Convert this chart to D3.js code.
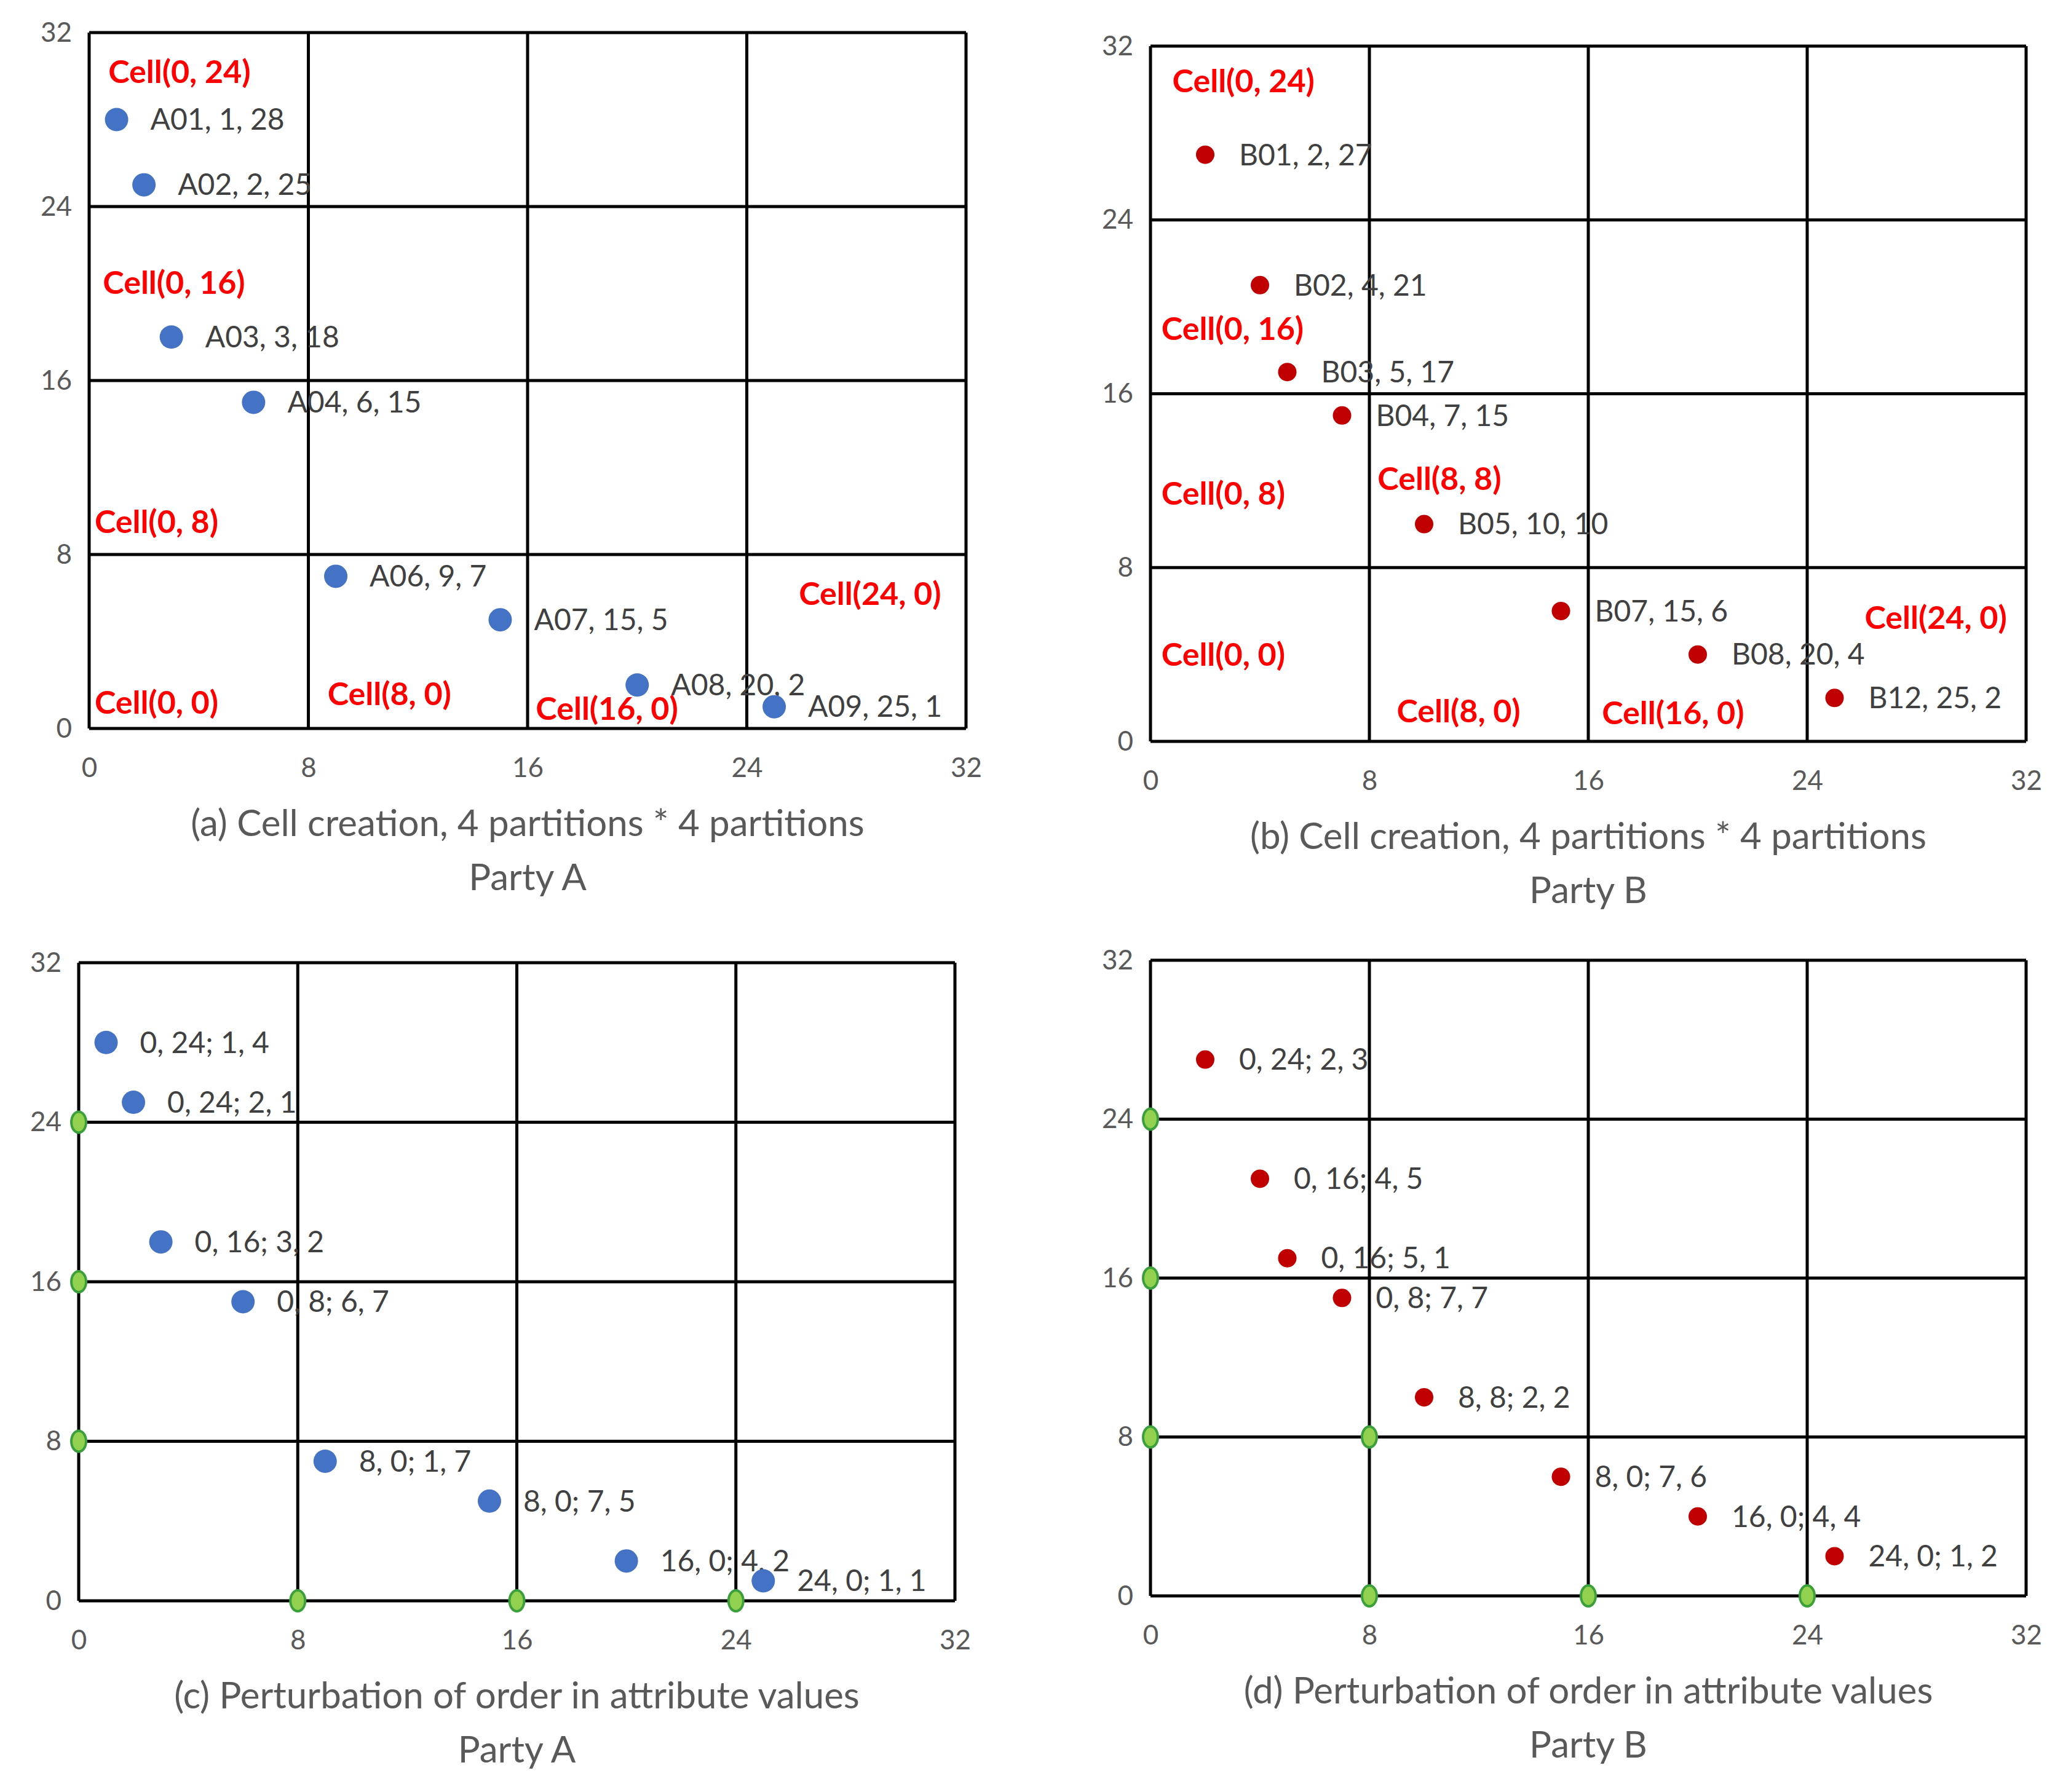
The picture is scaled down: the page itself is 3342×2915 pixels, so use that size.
<!DOCTYPE html>
<html>
<head>
<meta charset="utf-8">
<script src="https://cdn.jsdelivr.net/npm/d3@7"></script>
<style>
body { margin: 0; background: #fff; }
text { font-family: Lato, "Open Sans", sans-serif; }
</style>
</head>
<body>
<script>
// Party A points
const pointsA = [
  { name: "A01", x: 1, y: 28 }, { name: "A02", x: 2, y: 25 },
  { name: "A03", x: 3, y: 18 }, { name: "A04", x: 6, y: 15 },
  { name: "A06", x: 9, y: 7 },  { name: "A07", x: 15, y: 5 },
  { name: "A08", x: 20, y: 2 }, { name: "A09", x: 25, y: 1 }
];
// Party B points
const pointsB = [
  { name: "B01", x: 2, y: 27 }, { name: "B02", x: 4, y: 21 },
  { name: "B03", x: 5, y: 17 }, { name: "B04", x: 7, y: 15 },
  { name: "B05", x: 10, y: 10 }, { name: "B07", x: 15, y: 6 },
  { name: "B08", x: 20, y: 4 }, { name: "B12", x: 25, y: 2 }
];
const permLabelsA = ["0, 24; 1, 4", "0, 24; 2, 1", "0, 16; 3, 2", "0, 8; 6, 7",
  "8, 0; 1, 7", "8, 0; 7, 5", "16, 0; 4, 2", "24, 0; 1, 1"];
const permLabelsB = ["0, 24; 2, 3", "0, 16; 4, 5", "0, 16; 5, 1", "0, 8; 7, 7",
  "8, 8; 2, 2", "8, 0; 7, 6", "16, 0; 4, 4", "24, 0; 1, 2"];
const cellsA = [
  { t: "Cell(0, 24)", x: 0.7, y: 30.2 }, { t: "Cell(0, 16)", x: 0.5, y: 20.5 },
  { t: "Cell(0, 8)", x: 0.2, y: 9.5 }, { t: "Cell(0, 0)", x: 0.2, y: 1.2 },
  { t: "Cell(8, 0)", x: 8.7, y: 1.6 }, { t: "Cell(16, 0)", x: 16.3, y: 0.9 },
  { t: "Cell(24, 0)", x: 25.9, y: 6.2 }
];
const cellsB = [
  { t: "Cell(0, 24)", x: 0.8, y: 30.4 }, { t: "Cell(0, 16)", x: 0.4, y: 19.0 },
  { t: "Cell(0, 8)", x: 0.4, y: 11.4 }, { t: "Cell(8, 8)", x: 8.3, y: 12.1 },
  { t: "Cell(0, 0)", x: 0.4, y: 4.0 }, { t: "Cell(8, 0)", x: 9.0, y: 1.4 },
  { t: "Cell(16, 0)", x: 16.5, y: 1.3 }, { t: "Cell(24, 0)", x: 26.1, y: 5.7 }
];
const greenC = [[0, 24], [0, 16], [0, 8], [8, 0], [16, 0], [24, 0]];
const greenD = [[0, 24], [0, 16], [0, 8], [8, 8], [8, 0], [16, 0], [24, 0]];
const ticks = [0, 8, 16, 24, 32];

const panels = [
  { box: [145, 53, 1571, 1185], pts: pointsA, labels: pointsA.map(d => `${d.name}, ${d.x}, ${d.y}`),
    color: "#4472C4", r: 19, cells: cellsA, green: [], cap: ["(a) Cell creation, 4 partitions * 4 partitions", "Party A"] },
  { box: [1871, 75, 3295, 1206], pts: pointsB, labels: pointsB.map(d => `${d.name}, ${d.x}, ${d.y}`),
    color: "#C00000", r: 15, cells: cellsB, green: [], cap: ["(b) Cell creation, 4 partitions * 4 partitions", "Party B"] },
  { box: [128, 1566, 1553, 2604], pts: pointsA, labels: permLabelsA,
    color: "#4472C4", r: 19, cells: [], green: greenC, cap: ["(c) Perturbation of order in attribute values", "Party A"] },
  { box: [1871, 1562, 3295, 2596], pts: pointsB, labels: permLabelsB,
    color: "#C00000", r: 15, cells: [], green: greenD, cap: ["(d) Perturbation of order in attribute values", "Party B"] }
];

const svg = d3.select("body").append("svg")
  .attr("width", 3342).attr("height", 2915);

panels.forEach(p => {
  const [x0, y0, x1, y1] = p.box;
  const x = d3.scaleLinear().domain([0, 32]).range([x0, x1]);
  const y = d3.scaleLinear().domain([0, 32]).range([y1, y0]);
  const g = svg.append("g");

  // grid
  ticks.forEach(t => {
    g.append("line").attr("x1", x(t)).attr("x2", x(t)).attr("y1", y(0)).attr("y2", y(32))
      .attr("stroke", "#000").attr("stroke-width", 5);
    g.append("line").attr("x1", x(0)).attr("x2", x(32)).attr("y1", y(t)).attr("y2", y(t))
      .attr("stroke", "#000").attr("stroke-width", 5);
  });

  // axes labels
  g.append("g").attr("transform", `translate(0,${y(0)})`)
    .call(d3.axisBottom(x).tickValues(ticks).tickSize(0).tickPadding(48))
    .call(a => a.select(".domain").remove())
    .selectAll("text").attr("fill", "#595959").style("font-size", "44px").style("font-family", "Lato, sans-serif");
  g.append("g").attr("transform", `translate(${x(0)},0)`)
    .call(d3.axisLeft(y).tickValues(ticks).tickSize(0).tickPadding(28))
    .call(a => a.select(".domain").remove())
    .selectAll("text").attr("fill", "#595959").style("font-size", "44px").style("font-family", "Lato, sans-serif");

  // green markers
  p.green.forEach(([gx, gy]) => {
    g.append("ellipse").attr("cx", x(gx)).attr("cy", y(gy)).attr("rx", 12).attr("ry", 17)
      .attr("fill", "#92D050").attr("stroke", "#3BA03B").attr("stroke-width", 4);
  });

  // points
  p.pts.forEach((d, i) => {
    g.append("circle").attr("cx", x(d.x)).attr("cy", y(d.y)).attr("r", p.r).attr("fill", p.color);
    g.append("text").attr("x", x(d.x) + 55).attr("y", y(d.y)).attr("dy", "0.35em")
      .attr("fill", "#404040").style("font-size", "48px").text(p.labels[i]);
  });

  // cell labels
  p.cells.forEach(c => {
    g.append("text").attr("x", x(c.x)).attr("y", y(c.y)).attr("dy", "0.35em")
      .attr("fill", "#FF0000").style("font-size", "52px").style("font-weight", "bold").text(c.t);
  });

  // caption
  p.cap.forEach((c, i) => {
    g.append("text").attr("x", (x0 + x1) / 2).attr("y", y1 + 175 + i * 88)
      .attr("text-anchor", "middle").attr("fill", "#595959").style("font-size", "60px").text(c);
  });
});
</script>
</body>
</html>
